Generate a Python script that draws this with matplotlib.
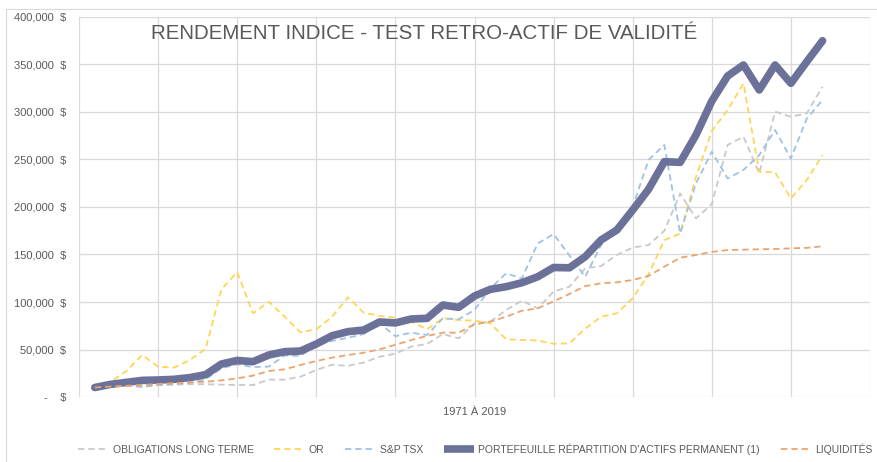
import matplotlib
matplotlib.use('Agg')
import numpy as np
import matplotlib.pyplot as plt
from matplotlib.lines import Line2D
from matplotlib.patches import Rectangle

plt.rcParams['font.family'] = ['Liberation Sans', 'DejaVu Sans']

# values in thousands of $, one point per year
obligations = [10, 11, 11.5, 12, 12.5, 13, 13.5, 13.5, 13, 12.6,
               12.6, 18.3, 18.3, 21.4, 28.4, 34.0, 32.8, 36.3, 42.4, 45.6,
               53, 55.8, 66.3, 61.8, 77.6, 79.3, 91.6, 101.4, 93.3, 111.0,
               116.0, 135.5, 137.9, 149.5, 157.3, 160.0, 175.0, 214.2, 188.0, 203.0,
               265.3, 274.0, 235.5, 300.3, 295.0, 298.6, 326.6]
gold = [10, 16, 27.4, 44.2, 31.9, 30.9, 38.9, 50.5, 113.3, 131.5,
        88.1, 100.3, 84.5, 68.1, 71.3, 84.5, 104.9, 88.7, 85.3, 83.5,
        79.3, 71.3, 82.8, 81.0, 80.3, 77.6, 60.7, 60.0, 59.5, 56.0,
        56.5, 72.0, 84.5, 88.0, 104.0, 129.0, 165.0, 172.0, 231.9, 280.0,
        302.0, 330.0, 237.0, 236.5, 209.0, 228.4, 254.7]
tsx = [10, 11.5, 12.0, 10.5, 12.6, 13.5, 15.0, 18.6, 30.2, 34.4,
       31.5, 32.0, 43.7, 43.2, 54.2, 59.0, 62.3, 66.3, 77.6, 64.0,
       67.7, 65.3, 82.8, 81.8, 91.6, 114.4, 130.2, 124.9, 161.8, 171.5,
       149.0, 126.6, 160.0, 180.0, 200.3, 249.5, 265.3, 172.3, 225.0, 258.2,
       230.0, 239.0, 254.7, 281.0, 251.0, 293.0, 312.6]
portefeuille = [10.0, 13.3, 15.4, 17.5, 17.9, 18.6, 20.4, 23.5, 34.7, 38.5,
                37.2, 44.2, 47.7, 48.4, 55.8, 64.5, 68.8, 70.5, 79.0, 78.0,
                82.1, 82.8, 96.8, 94.4, 106.3, 113.3, 116.1, 120.3, 126.6, 136.3,
                136.0, 147.7, 165.3, 175.8, 196.8, 218.6, 247.7, 247.0, 275.8, 311.5,
                337.9, 349.5, 323.2, 349.5, 330.2, 352.9, 375.0]
liquidites = [10, 11, 11.8, 12.6, 13.7, 14.5, 15.3, 16.1, 17.5, 19.6,
              22.5, 27.4, 29.1, 33.7, 37.9, 41.4, 44.2, 46.6, 50.2, 54.9,
              60, 64.2, 67.7, 67.7, 76.5, 79.3, 84.5, 90.8, 93.3, 100.7,
              108.4, 116.8, 119.7, 120.7, 123.2, 127.4, 137.2, 146.6, 149.5, 152.7,
              154.7, 155.1, 155.5, 155.8, 156.5, 157.0, 158.6]

labels = ['OBLIGATIONS LONG TERME', 'OR', 'S&P TSX',
          "PORTEFEUILLE RÉPARTITION D'ACTIFS PERMANENT (1)", 'LIQUIDITÉS']
yticks = [0, 50000, 100000, 150000, 200000, 250000, 300000, 350000, 400000]

x = np.arange(1, len(portefeuille) + 1)

fig = plt.figure(figsize=(8.77, 4.62), dpi=100)
fig.patches.append(Rectangle((6 / 877, -0.05), 1.0, 1.05 - 9 / 462, transform=fig.transFigure,
                             fill=False, edgecolor='#d9d9d9', linewidth=0.8))
ax = fig.add_axes([79 / 877, 65 / 462, 791 / 877, 380 / 462])

dash = dict(linewidth=1.3, dashes=(3.5, 2.2))
ax.plot(x, np.array(obligations) * 1000, color='#c9c9c9', **dash)
ax.plot(x, np.array(gold) * 1000, color='#ffd557', **dash)
ax.plot(x, np.array(tsx) * 1000, color='#9fc2e4', **dash)
ax.plot(x, np.array(portefeuille) * 1000, color='#6b7199', linewidth=5.5,
        solid_capstyle='round', solid_joinstyle='round')
ax.plot(x, np.array(liquidites) * 1000, color='#eba46e', **dash)

ax.set_xlim(0, 50)
ax.set_ylim(0, 400000)
ax.set_xticks(np.arange(0, 51, 5))
ax.set_xticklabels([])
ax.set_yticks(yticks)
ax.set_yticklabels(['-    $' if v == 0 else f'{v:,.0f}  $' for v in yticks])
ax.tick_params(axis='both', length=0, pad=9.4, labelsize=8, labelcolor='#595959')
ax.grid(True, color='#d9d9d9', linewidth=0.9)
ax.set_axisbelow(True)
for s in ax.spines.values():
    s.set_visible(False)

fig.text(0.4835, 0.928, 'RENDEMENT INDICE - TEST RETRO-ACTIF DE VALIDITÉ',
         ha='center', va='center', fontsize=14.8, color='#595959')
fig.text(475 / 877, 1 - 412 / 462, '1971 À 2019', ha='center', va='center',
         fontsize=8, color='#595959')

handles = [Line2D([], [], color='#c9c9c9', **dash),
           Line2D([], [], color='#ffd557', **dash),
           Line2D([], [], color='#9fc2e4', **dash),
           Line2D([], [], color='#6b7199', linewidth=5.5, solid_capstyle='butt'),
           Line2D([], [], color='#eba46e', **dash)]
fig.legend(handles, labels, loc='center', bbox_to_anchor=(0.542, 1 - 449 / 462),
           ncol=5, frameon=False, fontsize=7.5, labelcolor='#595959',
           handlelength=2.9, handletextpad=0.4, columnspacing=2.0)

plt.savefig('out.png', dpi=100)
